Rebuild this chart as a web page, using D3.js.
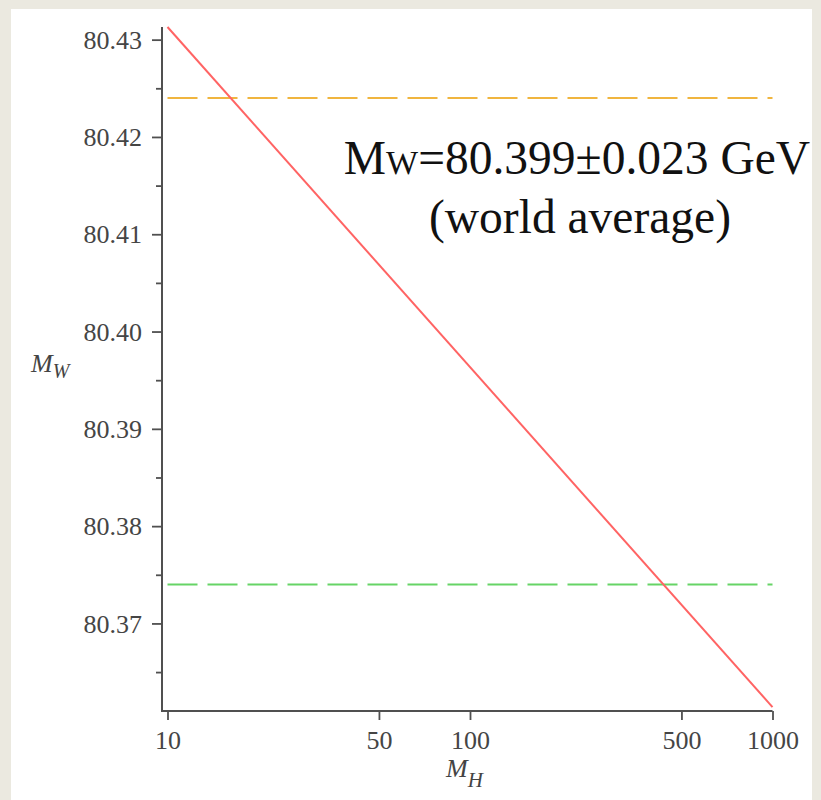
<!DOCTYPE html>
<html>
<head>
<meta charset="utf-8">
<script src="https://cdn.jsdelivr.net/npm/d3@7"></script>
<style>
  html, body { margin: 0; padding: 0; background: #ebe9e0; }
  svg { display: block; }
</style>
</head>
<body>
<svg id="chart" width="821" height="800"></svg>
<script>
// Higgs mass (GeV) and predicted W mass (GeV) at the ends of the curve
const higgsMass = [10, 1000];
const wMass = [80.4313, 80.3614];

// Limits of the measured W-mass band (upper, lower)
const bandValues = [80.424, 80.374];
const bandColors = ["#f0b53f", "#66d466"];

// Axis ticks
const xTicks = [10, 50, 100, 500, 1000];
const yMajorTicks = [80.37, 80.38, 80.39, 80.40, 80.41, 80.42, 80.43];
const yMinorTicks = [80.365, 80.375, 80.385, 80.395, 80.405, 80.415, 80.425];

const annotationLines = ["80.399\u00b10.023 GeV", "(world average)"];

const svg = d3.select("#chart");

// white sheet
svg.append("rect")
  .attr("x", 11).attr("y", 9)
  .attr("width", 801).attr("height", 791)
  .attr("fill", "#ffffff");

const x = d3.scaleLog().domain([10, 1000]).range([167.5, 772.5]);
const y = d3.scaleLinear().domain([80.3610, 80.4313]).range([711, 27]);

const axisColor = "#505050";
const tickFont = "'Liberation Serif', 'Times New Roman', serif";

// left axis: minor ticks first, then major ticks with labels
const yMinor = svg.append("g")
  .attr("transform", "translate(162,0)")
  .call(d3.axisLeft(y).tickValues(yMinorTicks).tickSize(6).tickFormat(""));
yMinor.select(".domain").remove();
yMinor.selectAll("line").attr("stroke", axisColor).attr("stroke-width", 1.8);

const yAxis = svg.append("g")
  .attr("transform", "translate(162,0)")
  .call(d3.axisLeft(y).tickValues(yMajorTicks).tickSize(10).tickSizeOuter(0)
    .tickPadding(10).tickFormat(d3.format(".2f")));
yAxis.select(".domain").remove();
yAxis.selectAll("line").attr("stroke", axisColor).attr("stroke-width", 1.8);
yAxis.selectAll("text")
  .attr("font-family", tickFont)
  .attr("font-size", 26)
  .attr("fill", "#454545")
  .attr("dy", "0.33em");

// bottom axis
const xAxis = svg.append("g")
  .attr("transform", "translate(0,711)")
  .call(d3.axisBottom(x).tickValues(xTicks).tickSize(9).tickSizeOuter(0)
    .tickFormat(d3.format("d")));
xAxis.select(".domain").remove();
xAxis.selectAll("line").attr("stroke", axisColor).attr("stroke-width", 1.8);
xAxis.selectAll("text")
  .attr("font-family", tickFont)
  .attr("font-size", 26)
  .attr("fill", "#454545")
  .attr("y", 38)
  .attr("dy", 0);

// frame lines of the two axes
svg.append("path")
  .attr("d", d3.line()([[162, y.range()[1]], [162, 711], [x.range()[1], 711]]))
  .attr("fill", "none")
  .attr("stroke", axisColor)
  .attr("stroke-width", 2);

// dashed band limits
svg.append("g").selectAll("line")
  .data(bandValues)
  .join("line")
  .attr("x1", x(10)).attr("x2", x(1000))
  .attr("y1", d => y(d)).attr("y2", d => y(d))
  .attr("stroke", (d, i) => bandColors[i])
  .attr("stroke-width", 2)
  .attr("stroke-dasharray", "30,10");

// predicted W mass against Higgs mass
svg.append("path")
  .datum(higgsMass.map((h, i) => [h, wMass[i]]))
  .attr("d", d3.line().x(d => x(d[0])).y(d => y(d[1])))
  .attr("fill", "none")
  .attr("stroke", "#ff6464")
  .attr("stroke-width", 2);

// axis titles
const yTitle = svg.append("text")
  .attr("x", 31).attr("y", 372)
  .attr("font-family", tickFont)
  .attr("font-style", "italic")
  .attr("font-size", 26)
  .attr("fill", "#444");
yTitle.append("tspan").text("M");
yTitle.append("tspan").attr("font-size", 20).attr("dy", 6).text("W");

const xTitle = svg.append("text")
  .attr("x", 446).attr("y", 777)
  .attr("font-family", tickFont)
  .attr("font-style", "italic")
  .attr("font-size", 26)
  .attr("fill", "#444");
xTitle.append("tspan").text("M");
xTitle.append("tspan").attr("font-size", 21).attr("dy", 10).text("H");

// annotation
const note = svg.append("g")
  .attr("font-family", tickFont)
  .attr("font-size", 47.5)
  .attr("fill", "#111")
  .attr("text-anchor", "middle");
const l1 = note.append("text").attr("x", 577).attr("y", 174);
l1.append("tspan").text("M");
l1.append("tspan").attr("font-size", 34).text("W");
l1.append("tspan").text("=" + annotationLines[0]);
note.append("text").attr("x", 580).attr("y", 233).text(annotationLines[1]);
</script>
</body>
</html>
